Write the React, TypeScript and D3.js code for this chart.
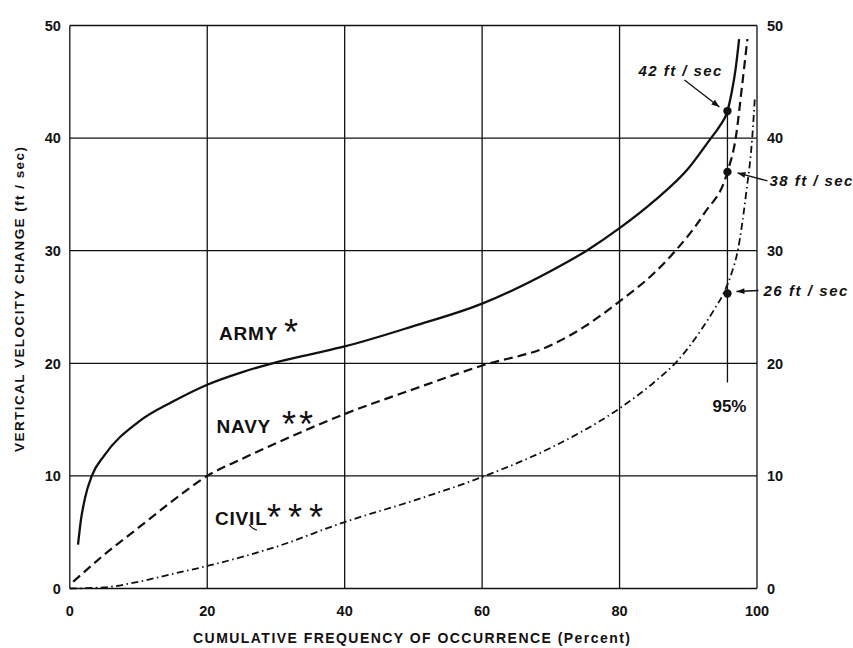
import React from "react";
import * as d3 from "d3";

// ---- data ----
const xTicks = [0, 20, 40, 60, 80, 100];
const yTicks = [0, 10, 20, 30, 40, 50];

const armyX = [1.2, 1.6, 2.2, 3.2, 5, 10, 15, 20, 25, 29.5, 35, 40, 50, 60, 70, 75.2, 80, 85, 90, 93.3, 94.5, 95.7, 96.3, 96.9, 97.4];
const armyY = [3.9, 6, 8, 10, 11.8, 14.8, 16.6, 18.1, 19.2, 20, 20.8, 21.5, 23.3, 25.3, 28.2, 30, 32, 34.4, 37.3, 40, 41, 42.4, 44, 46.2, 48.8];

const navyX = [0.5, 5, 10, 15, 20, 25, 30, 40, 50, 60, 70, 75, 80, 85, 88, 92.3, 95.7, 96.9, 97.8, 98.6];
const navyY = [0.6, 3, 5.4, 7.8, 10, 11.5, 12.9, 15.5, 17.7, 19.8, 21.6, 23.3, 25.5, 28, 29.9, 33.3, 37, 40, 44.5, 48.8];

const civilX = [0, 5, 10, 15, 20, 30, 40, 50, 60, 70, 80, 85, 88.4, 91.8, 93.8, 95.2, 96.3, 97.2, 98.4, 99.3, 99.7];
const civilY = [0, 0.1, 0.6, 1.3, 2, 3.7, 5.9, 7.8, 9.9, 12.5, 16, 18.3, 20.2, 22.9, 24.8, 26.3, 28, 30, 35, 40, 43.7];

const markX = 95.7;
const markLabel = "95%";
const markBottom = 18.3;
const markValues = [42.4, 37, 26.2];
const markTexts = ["42 ft / sec", "38 ft / sec", "26 ft / sec"];

const xTitle = "CUMULATIVE FREQUENCY OF OCCURRENCE (Percent)";
const yTitle = "VERTICAL VELOCITY CHANGE (ft / sec)";

const W = 853;
const H = 648;
const FONT = "'Liberation Sans', Arial, Helvetica, sans-serif";
const INK = "#111";

export default function App() {
  const x = d3.scaleLinear().domain([0, 100]).range([69.8, 757]);
  const y = d3.scaleLinear().domain([0, 50]).range([588.5, 25.5]);

  const line = d3
    .line<[number, number]>()
    .x((d) => x(d[0]))
    .y((d) => y(d[1]))
    .curve(d3.curveMonotoneX);

  const zip = (xs: number[], ys: number[]) => xs.map((v, i) => [v, ys[i]] as [number, number]);

  const mx = x(markX);
  const dots = markValues.map((v) => ({ cx: mx, cy: y(v) }));

  const arrowHead = (x1: number, y1: number, x2: number, y2: number) => {
    const a = Math.atan2(y2 - y1, x2 - x1);
    const L = 8, w = 3;
    const bx = x2 - L * Math.cos(a), by = y2 - L * Math.sin(a);
    const px = -Math.sin(a) * w, py = Math.cos(a) * w;
    return `M${x2},${y2}L${bx + px},${by + py}L${bx - px},${by - py}Z`;
  };

  const arrows = [
    { x1: dots[0].cx - 43, y1: dots[0].cy - 31, x2: dots[0].cx - 8, y2: dots[0].cy - 4 },
    { x1: dots[1].cx + 40, y1: dots[1].cy + 9, x2: dots[1].cx + 10, y2: dots[1].cy + 1 },
    { x1: dots[2].cx + 31, y1: dots[2].cy - 3, x2: dots[2].cx + 9, y2: dots[2].cy - 2 },
  ];

  return (
    <svg
      width={W}
      height={H}
      viewBox={`0 0 ${W} ${H}`}
      style={{ position: "absolute", left: 0, top: 0, background: "#fff" }}
      fontFamily={FONT}
    >
      <rect x={0} y={0} width={W} height={H} fill="#fff" />
      {/* grid */}
      <g stroke={INK} strokeWidth={1.3}>
        {xTicks.map((t) => (
          <line key={"gx" + t} x1={x(t)} x2={x(t)} y1={y(0)} y2={y(50)} />
        ))}
        {yTicks.map((t) => (
          <line key={"gy" + t} x1={x(0)} x2={x(100)} y1={y(t)} y2={y(t)} />
        ))}
      </g>
      {/* tick labels */}
      <g fontSize={14.5} fontWeight="bold" fill={INK}>
        {yTicks.map((t) => (
          <text key={"ly" + t} x={x(0) - 9} y={y(t)} dy="0.36em" textAnchor="end">
            {t}
          </text>
        ))}
        {yTicks.map((t) => (
          <text key={"ry" + t} x={x(100) + 10} y={y(t)} dy="0.36em" textAnchor="start">
            {t}
          </text>
        ))}
        {xTicks.map((t) => (
          <text key={"bx" + t} x={x(t)} y={y(0) + 27} textAnchor="middle">
            {t}
          </text>
        ))}
      </g>
      {/* axis titles */}
      <text
        x={411.5}
        y={643}
        textAnchor="middle"
        fontSize={14}
        fontWeight="bold"
        fill={INK}
        textLength={437}
        lengthAdjust="spacing"
      >
        {xTitle}
      </text>
      <text
        transform={`translate(23.5,299.5) rotate(-90)`}
        textAnchor="middle"
        fontSize={13.5}
        fontWeight="bold"
        fill={INK}
        textLength={305}
        lengthAdjust="spacing"
      >
        {yTitle}
      </text>
      {/* curves */}
      <path d={line(zip(armyX, armyY)) || ""} fill="none" stroke={INK} strokeWidth={2.3} />
      <path
        d={line(zip(navyX, navyY)) || ""}
        fill="none"
        stroke={INK}
        strokeWidth={2.2}
        strokeDasharray="9 5"
      />
      <path
        d={line(zip(civilX, civilY)) || ""}
        fill="none"
        stroke={INK}
        strokeWidth={1.8}
        strokeDasharray="7 3.5 1.5 3.5"
      />
      {/* 95% marker */}
      <line x1={mx} x2={mx} y1={y(markValues[0])} y2={y(markBottom)} stroke={INK} strokeWidth={1.3} />
      {dots.map((d, i) => (
        <circle key={"d" + i} cx={d.cx} cy={d.cy} r={4.2} fill={INK} />
      ))}
      {arrows.map((a, i) => (
        <g key={"a" + i}>
          <line x1={a.x1} y1={a.y1} x2={a.x2} y2={a.y2} stroke={INK} strokeWidth={1.3} />
          <path d={arrowHead(a.x1, a.y1, a.x2, a.y2)} fill={INK} />
        </g>
      ))}
      <g fontSize={15} fontWeight="bold" fontStyle="italic" fill={INK}>
        <text x={dots[0].cx - 6} y={dots[0].cy - 35} textAnchor="end" textLength={83} lengthAdjust="spacing">
          {markTexts[0]}
        </text>
        <text x={dots[1].cx + 42} y={dots[1].cy + 14.5} textAnchor="start" textLength={83} lengthAdjust="spacing">
          {markTexts[1]}
        </text>
        <text x={dots[2].cx + 36} y={dots[2].cy + 2.5} textAnchor="start" textLength={84} lengthAdjust="spacing">
          {markTexts[2]}
        </text>
      </g>
      <text x={mx + 2} y={y(markBottom) + 30} textAnchor="middle" fontSize={17} fontWeight="bold" fill={INK}>
        {markLabel}
      </text>
      {/* series labels */}
      <g fontSize={19} fontWeight="bold" fill={INK} letterSpacing={0.8}>
        <text x={219} y={340}>ARMY</text>
        <text x={216.5} y={433}>NAVY</text>
        <text x={215} y={525}>CIVIL</text>
      </g>
      <g fontSize={36} fill={INK} textAnchor="middle">
        <text x={291} y={345}>*</text>
        <text x={289} y={437}>*</text>
        <text x={306} y={437}>*</text>
        <text x={274} y={530}>*</text>
        <text x={295} y={530}>*</text>
        <text x={316} y={530}>*</text>
      </g>
      <path d="M249,524.5 Q252,529 257,530" fill="none" stroke={INK} strokeWidth={1.2} />
    </svg>
  );
}
